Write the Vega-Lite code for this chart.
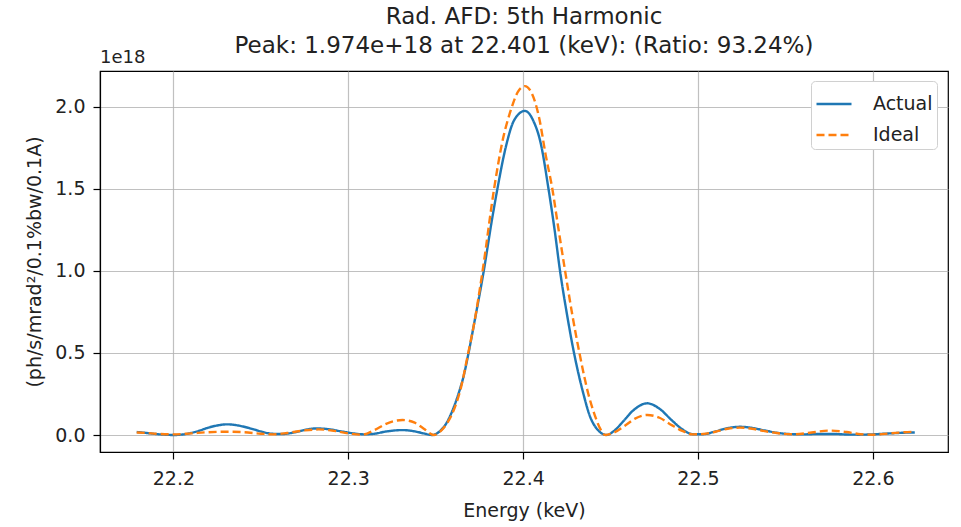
{
  "$schema": "https://vega.github.io/schema/vega-lite/v6.json",
  "width": 848,
  "height": 381,
  "autosize": "none",
  "padding": {"left": 100, "top": 71, "right": 13, "bottom": 75},
  "background": "white",
  "config": {
    "font": "DejaVu Sans",
    "view": {"stroke": "black", "strokeWidth": 1.2},
    "axis": {
      "labelFont": "DejaVu Sans",
      "titleFont": "DejaVu Sans",
      "labelFontSize": 19,
      "titleFontSize": 19,
      "labelColor": "#222",
      "titleColor": "#222",
      "titleFontWeight": "normal",
      "gridColor": "#b0b0b0",
      "gridWidth": 1.2,
      "gridOpacity": 0.8,
      "tickColor": "black",
      "tickSize": 7,
      "tickWidth": 1.2,
      "domainColor": "black",
      "domainWidth": 1.2
    }
  },
  "title": {
    "text": ["Rad. AFD: 5th Harmonic", "Peak: 1.974e+18 at 22.401 (keV): (Ratio: 93.24%)"],
    "font": "DejaVu Sans",
    "fontSize": 23,
    "fontWeight": "normal",
    "color": "#222",
    "lineHeight": 29,
    "offset": -9,
    "anchor": "middle"
  },
  "datasets": {
    "curves": [
      {"energy": 22.179, "flux": 0.018, "series": "Actual"},
      {"energy": 22.185, "flux": 0.012, "series": "Actual"},
      {"energy": 22.19, "flux": 0.006, "series": "Actual"},
      {"energy": 22.195, "flux": 0.002, "series": "Actual"},
      {"energy": 22.2, "flux": 0.0, "series": "Actual"},
      {"energy": 22.205, "flux": 0.003, "series": "Actual"},
      {"energy": 22.21, "flux": 0.012, "series": "Actual"},
      {"energy": 22.215, "flux": 0.027, "series": "Actual"},
      {"energy": 22.22, "flux": 0.045, "series": "Actual"},
      {"energy": 22.225, "flux": 0.058, "series": "Actual"},
      {"energy": 22.231, "flux": 0.065, "series": "Actual"},
      {"energy": 22.237, "flux": 0.058, "series": "Actual"},
      {"energy": 22.243, "flux": 0.043, "series": "Actual"},
      {"energy": 22.25, "flux": 0.022, "series": "Actual"},
      {"energy": 22.256, "flux": 0.008, "series": "Actual"},
      {"energy": 22.262, "flux": 0.006, "series": "Actual"},
      {"energy": 22.27, "flux": 0.018, "series": "Actual"},
      {"energy": 22.276, "flux": 0.033, "series": "Actual"},
      {"energy": 22.282, "flux": 0.04, "series": "Actual"},
      {"energy": 22.289, "flux": 0.035, "series": "Actual"},
      {"energy": 22.296, "flux": 0.022, "series": "Actual"},
      {"energy": 22.303, "flux": 0.01, "series": "Actual"},
      {"energy": 22.309, "flux": 0.004, "series": "Actual"},
      {"energy": 22.315, "flux": 0.008, "series": "Actual"},
      {"energy": 22.322, "flux": 0.022, "series": "Actual"},
      {"energy": 22.331, "flux": 0.03, "series": "Actual"},
      {"energy": 22.338, "flux": 0.022, "series": "Actual"},
      {"energy": 22.343, "flux": 0.01, "series": "Actual"},
      {"energy": 22.348, "flux": 0.0, "series": "Actual"},
      {"energy": 22.352, "flux": 0.02, "series": "Actual"},
      {"energy": 22.356, "flux": 0.07, "series": "Actual"},
      {"energy": 22.36, "flux": 0.16, "series": "Actual"},
      {"energy": 22.363, "flux": 0.25, "series": "Actual"},
      {"energy": 22.366, "flux": 0.36, "series": "Actual"},
      {"energy": 22.3688, "flux": 0.5, "series": "Actual"},
      {"energy": 22.372, "flux": 0.68, "series": "Actual"},
      {"energy": 22.3775, "flux": 1.0, "series": "Actual"},
      {"energy": 22.382, "flux": 1.3, "series": "Actual"},
      {"energy": 22.3853, "flux": 1.5, "series": "Actual"},
      {"energy": 22.39, "flux": 1.75, "series": "Actual"},
      {"energy": 22.395, "flux": 1.92, "series": "Actual"},
      {"energy": 22.401, "flux": 1.974, "series": "Actual"},
      {"energy": 22.406, "flux": 1.91, "series": "Actual"},
      {"energy": 22.41, "flux": 1.78, "series": "Actual"},
      {"energy": 22.4145, "flux": 1.5, "series": "Actual"},
      {"energy": 22.418, "flux": 1.25, "series": "Actual"},
      {"energy": 22.4211, "flux": 1.0, "series": "Actual"},
      {"energy": 22.425, "flux": 0.74, "series": "Actual"},
      {"energy": 22.4291, "flux": 0.5, "series": "Actual"},
      {"energy": 22.4345, "flux": 0.25, "series": "Actual"},
      {"energy": 22.438, "flux": 0.12, "series": "Actual"},
      {"energy": 22.442, "flux": 0.04, "series": "Actual"},
      {"energy": 22.4478, "flux": 0.0, "series": "Actual"},
      {"energy": 22.452, "flux": 0.025, "series": "Actual"},
      {"energy": 22.457, "flux": 0.08, "series": "Actual"},
      {"energy": 22.463, "flux": 0.15, "series": "Actual"},
      {"energy": 22.471, "flux": 0.193, "series": "Actual"},
      {"energy": 22.478, "flux": 0.16, "series": "Actual"},
      {"energy": 22.485, "flux": 0.09, "series": "Actual"},
      {"energy": 22.491, "flux": 0.035, "series": "Actual"},
      {"energy": 22.497, "flux": 0.005, "series": "Actual"},
      {"energy": 22.503, "flux": 0.005, "series": "Actual"},
      {"energy": 22.51, "flux": 0.022, "series": "Actual"},
      {"energy": 22.517, "flux": 0.042, "series": "Actual"},
      {"energy": 22.524, "flux": 0.05, "series": "Actual"},
      {"energy": 22.531, "flux": 0.043, "series": "Actual"},
      {"energy": 22.538, "flux": 0.028, "series": "Actual"},
      {"energy": 22.545, "flux": 0.014, "series": "Actual"},
      {"energy": 22.552, "flux": 0.006, "series": "Actual"},
      {"energy": 22.56, "flux": 0.004, "series": "Actual"},
      {"energy": 22.57, "flux": 0.006, "series": "Actual"},
      {"energy": 22.578, "flux": 0.006, "series": "Actual"},
      {"energy": 22.585, "flux": 0.003, "series": "Actual"},
      {"energy": 22.592, "flux": 0.002, "series": "Actual"},
      {"energy": 22.6, "flux": 0.004, "series": "Actual"},
      {"energy": 22.61, "flux": 0.01, "series": "Actual"},
      {"energy": 22.618, "flux": 0.014, "series": "Actual"},
      {"energy": 22.624, "flux": 0.015, "series": "Actual"},
      {"energy": 22.179, "flux": 0.015, "series": "Ideal"},
      {"energy": 22.185, "flux": 0.012, "series": "Ideal"},
      {"energy": 22.19, "flux": 0.008, "series": "Ideal"},
      {"energy": 22.2, "flux": 0.004, "series": "Ideal"},
      {"energy": 22.21, "flux": 0.01, "series": "Ideal"},
      {"energy": 22.22, "flux": 0.017, "series": "Ideal"},
      {"energy": 22.23, "flux": 0.02, "series": "Ideal"},
      {"energy": 22.24, "flux": 0.017, "series": "Ideal"},
      {"energy": 22.25, "flux": 0.008, "series": "Ideal"},
      {"energy": 22.257, "flux": 0.004, "series": "Ideal"},
      {"energy": 22.265, "flux": 0.012, "series": "Ideal"},
      {"energy": 22.275, "flux": 0.028, "series": "Ideal"},
      {"energy": 22.283, "flux": 0.034, "series": "Ideal"},
      {"energy": 22.292, "flux": 0.025, "series": "Ideal"},
      {"energy": 22.3, "flux": 0.01, "series": "Ideal"},
      {"energy": 22.308, "flux": 0.002, "series": "Ideal"},
      {"energy": 22.315, "flux": 0.03, "series": "Ideal"},
      {"energy": 22.322, "flux": 0.07, "series": "Ideal"},
      {"energy": 22.331, "flux": 0.091, "series": "Ideal"},
      {"energy": 22.338, "flux": 0.075, "series": "Ideal"},
      {"energy": 22.343, "flux": 0.04, "series": "Ideal"},
      {"energy": 22.349, "flux": 0.0, "series": "Ideal"},
      {"energy": 22.353, "flux": 0.025, "series": "Ideal"},
      {"energy": 22.357, "flux": 0.08, "series": "Ideal"},
      {"energy": 22.361, "flux": 0.17, "series": "Ideal"},
      {"energy": 22.364, "flux": 0.27, "series": "Ideal"},
      {"energy": 22.3686, "flux": 0.5, "series": "Ideal"},
      {"energy": 22.372, "flux": 0.68, "series": "Ideal"},
      {"energy": 22.3771, "flux": 1.02, "series": "Ideal"},
      {"energy": 22.3834, "flux": 1.5, "series": "Ideal"},
      {"energy": 22.388, "flux": 1.78, "series": "Ideal"},
      {"energy": 22.393, "flux": 1.98, "series": "Ideal"},
      {"energy": 22.397, "flux": 2.09, "series": "Ideal"},
      {"energy": 22.401, "flux": 2.125, "series": "Ideal"},
      {"energy": 22.405, "flux": 2.08, "series": "Ideal"},
      {"energy": 22.409, "flux": 1.94, "series": "Ideal"},
      {"energy": 22.413, "flux": 1.7, "series": "Ideal"},
      {"energy": 22.4167, "flux": 1.5, "series": "Ideal"},
      {"energy": 22.42, "flux": 1.27, "series": "Ideal"},
      {"energy": 22.424, "flux": 1.0, "series": "Ideal"},
      {"energy": 22.428, "flux": 0.74, "series": "Ideal"},
      {"energy": 22.4322, "flux": 0.5, "series": "Ideal"},
      {"energy": 22.4373, "flux": 0.25, "series": "Ideal"},
      {"energy": 22.441, "flux": 0.12, "series": "Ideal"},
      {"energy": 22.444, "flux": 0.04, "series": "Ideal"},
      {"energy": 22.447, "flux": 0.0, "series": "Ideal"},
      {"energy": 22.452, "flux": 0.015, "series": "Ideal"},
      {"energy": 22.458, "flux": 0.055, "series": "Ideal"},
      {"energy": 22.464, "flux": 0.1, "series": "Ideal"},
      {"energy": 22.471, "flux": 0.122, "series": "Ideal"},
      {"energy": 22.478, "flux": 0.105, "series": "Ideal"},
      {"energy": 22.485, "flux": 0.06, "series": "Ideal"},
      {"energy": 22.491, "flux": 0.025, "series": "Ideal"},
      {"energy": 22.497, "flux": 0.004, "series": "Ideal"},
      {"energy": 22.503, "flux": 0.006, "series": "Ideal"},
      {"energy": 22.51, "flux": 0.02, "series": "Ideal"},
      {"energy": 22.517, "flux": 0.038, "series": "Ideal"},
      {"energy": 22.524, "flux": 0.045, "series": "Ideal"},
      {"energy": 22.531, "flux": 0.038, "series": "Ideal"},
      {"energy": 22.538, "flux": 0.024, "series": "Ideal"},
      {"energy": 22.545, "flux": 0.012, "series": "Ideal"},
      {"energy": 22.555, "flux": 0.004, "series": "Ideal"},
      {"energy": 22.565, "flux": 0.015, "series": "Ideal"},
      {"energy": 22.575, "flux": 0.027, "series": "Ideal"},
      {"energy": 22.585, "flux": 0.018, "series": "Ideal"},
      {"energy": 22.593, "flux": 0.005, "series": "Ideal"},
      {"energy": 22.6, "flux": 0.002, "series": "Ideal"},
      {"energy": 22.61, "flux": 0.01, "series": "Ideal"},
      {"energy": 22.618, "flux": 0.017, "series": "Ideal"},
      {"energy": 22.624, "flux": 0.02, "series": "Ideal"}
    ],
    "offsetlabel": [{"label": "1e18"}]
  },
  "layer": [
    {
      "data": {"name": "curves"},
      "mark": {"type": "line", "interpolate": "monotone", "strokeWidth": 2.4, "strokeCap": "butt"},
      "encoding": {
        "x": {
          "field": "energy",
          "type": "quantitative",
          "scale": {"domain": [22.158, 22.643], "nice": false, "zero": false},
          "axis": {
            "title": "Energy (keV)",
            "values": [22.2, 22.3, 22.4, 22.5, 22.6],
            "format": ".1f",
            "labelPadding": 10,
            "titlePadding": 13
          }
        },
        "y": {
          "field": "flux",
          "type": "quantitative",
          "scale": {"domain": [-0.1035, 2.217], "nice": false, "zero": false},
          "axis": {
            "title": "(ph/s/mrad²/0.1%bw/0.1A)",
            "values": [0, 0.5, 1.0, 1.5, 2.0],
            "format": ".1f",
            "labelPadding": 8,
            "titlePadding": 10
          }
        },
        "color": {
          "field": "series",
          "type": "nominal",
          "scale": {"domain": ["Actual", "Ideal"], "range": ["#1f77b4", "#ff7f0e"]},
          "legend": {
            "title": null,
            "orient": "none",
            "legendX": 711,
            "legendY": 10,
            "padding": 4,
            "fillColor": "white",
            "strokeColor": "#d0d0d0",
            "cornerRadius": 4,
            "symbolType": "stroke",
            "symbolSize": 1225,
            "symbolStrokeWidth": 2.4,
            "labelFontSize": 19,
            "labelFont": "DejaVu Sans",
            "labelColor": "#222",
            "labelOffset": 20,
            "rowPadding": 2
          }
        },
        "strokeDash": {
          "field": "series",
          "type": "nominal",
          "scale": {"domain": ["Actual", "Ideal"], "range": [[1, 0], [8, 4]]},
          "legend": null
        }
      }
    },
    {
      "data": {"name": "offsetlabel"},
      "mark": {"type": "text", "align": "left", "baseline": "bottom", "fontSize": 18, "font": "DejaVu Sans", "color": "#222", "dy": -4},
      "encoding": {
        "x": {"datum": 22.158, "type": "quantitative"},
        "y": {"datum": 2.217, "type": "quantitative"},
        "text": {"field": "label", "type": "nominal"}
      }
    }
  ]
}
